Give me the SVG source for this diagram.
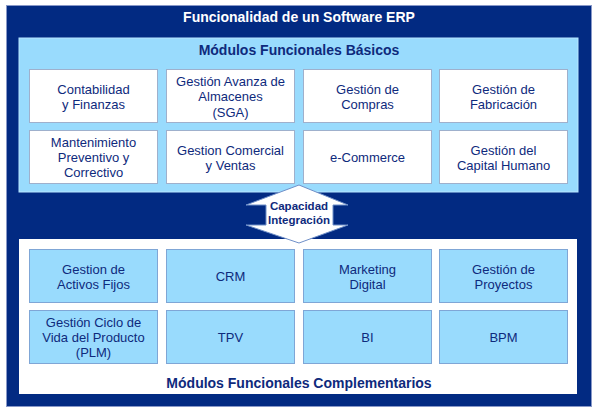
<svg xmlns="http://www.w3.org/2000/svg" width="600" height="415" viewBox="0 0 600 415">
<style>
text{font-family:"Liberation Sans",Arial,sans-serif;text-anchor:middle;dominant-baseline:central}
.t{font-size:14px;font-weight:bold}
.b{font-size:13px;fill:#0e2a7c}
.wb{fill:#ffffff;stroke:#9fb0cc;stroke-width:1}
.lb{fill:#99dbfd;stroke:#7fa6d6;stroke-width:1}
</style>
<rect x="6.5" y="5.5" width="585" height="401" fill="#022a82" stroke="#8898c8" stroke-width="1"/>
<g id="title"><text class="t" x="299" y="17" fill="#ffffff">Funcionalidad de un Software ERP</text></g>
<g id="basicos">
<rect x="19" y="38" width="559" height="154" fill="#99dbfd" stroke="#b8e6ff" stroke-width="1"/>
<text class="t" x="299" y="50" fill="#0e2a7c">Módulos Funcionales Básicos</text>
</g>
<g id="complementarios">
<rect x="19" y="239" width="558" height="155" fill="#ffffff"/>
<text class="t" x="299" y="383" fill="#0e2a7c">Módulos Funcionales Complementarios</text>
</g>
<g id="n1"><rect class="wb" x="29.5" y="69.5" width="128" height="53"/><text class="b" x="93.5" y="89">Contabilidad</text><text class="b" x="93.5" y="104">y Finanzas</text></g>
<g id="n2"><rect class="wb" x="166.5" y="69.5" width="128" height="53"/><text class="b" x="230.5" y="81">Gestión Avanza de</text><text class="b" x="230.5" y="96.5">Almacenes</text><text class="b" x="230.5" y="112">(SGA)</text></g>
<g id="n3"><rect class="wb" x="303.5" y="69.5" width="128" height="53"/><text class="b" x="367.5" y="89">Gestión de</text><text class="b" x="367.5" y="104">Compras</text></g>
<g id="n4"><rect class="wb" x="439.5" y="69.5" width="128" height="53"/><text class="b" x="503.5" y="89">Gestión de</text><text class="b" x="503.5" y="104">Fabricación</text></g>
<g id="n5"><rect class="wb" x="29.5" y="130.5" width="128" height="53"/><text class="b" x="93.5" y="142">Mantenimiento</text><text class="b" x="93.5" y="157">Preventivo y</text><text class="b" x="93.5" y="172">Correctivo</text></g>
<g id="n6"><rect class="wb" x="166.5" y="130.5" width="128" height="53"/><text class="b" x="230.5" y="150">Gestion Comercial</text><text class="b" x="230.5" y="165">y Ventas</text></g>
<g id="n7"><rect class="wb" x="303.5" y="130.5" width="128" height="53"/><text class="b" x="367.5" y="157">e-Commerce</text></g>
<g id="n8"><rect class="wb" x="439.5" y="130.5" width="128" height="53"/><text class="b" x="503.5" y="150">Gestión del</text><text class="b" x="503.5" y="165">Capital Humano</text></g>
<g id="m1"><rect class="lb" x="29.5" y="249.5" width="128" height="53"/><text class="b" x="93.5" y="269">Gestion de</text><text class="b" x="93.5" y="284">Activos Fijos</text></g>
<g id="m2"><rect class="lb" x="166.5" y="249.5" width="128" height="53"/><text class="b" x="230.5" y="276">CRM</text></g>
<g id="m3"><rect class="lb" x="303.5" y="249.5" width="128" height="53"/><text class="b" x="367.5" y="269">Marketing</text><text class="b" x="367.5" y="284">Digital</text></g>
<g id="m4"><rect class="lb" x="439.5" y="249.5" width="128" height="53"/><text class="b" x="503.5" y="269">Gestión de</text><text class="b" x="503.5" y="284">Proyectos</text></g>
<g id="m5"><rect class="lb" x="29.5" y="310.5" width="128" height="53"/><text class="b" x="93.5" y="322">Gestión Ciclo de</text><text class="b" x="93.5" y="337">Vida del Producto</text><text class="b" x="93.5" y="352">(PLM)</text></g>
<g id="m6"><rect class="lb" x="166.5" y="310.5" width="128" height="53"/><text class="b" x="230.5" y="337">TPV</text></g>
<g id="m7"><rect class="lb" x="303.5" y="310.5" width="128" height="53"/><text class="b" x="367.5" y="337">BI</text></g>
<g id="m8"><rect class="lb" x="439.5" y="310.5" width="128" height="53"/><text class="b" x="503.5" y="337">BPM</text></g>
<g id="connectors">
<path d="M299 185 L348 205 L333 205 L333 225 L348 225 L299 243 L246 225 L266 225 L266 205 L246 205 Z" fill="#ffffff" stroke="#6f8fc8" stroke-width="1"/>
<text x="299" y="206" style="font-size:11.5px;font-weight:bold" fill="#0e2a7c">Capacidad</text>
<text x="299" y="220" style="font-size:11.5px;font-weight:bold" fill="#0e2a7c">Integración</text>
</g>
</svg>
